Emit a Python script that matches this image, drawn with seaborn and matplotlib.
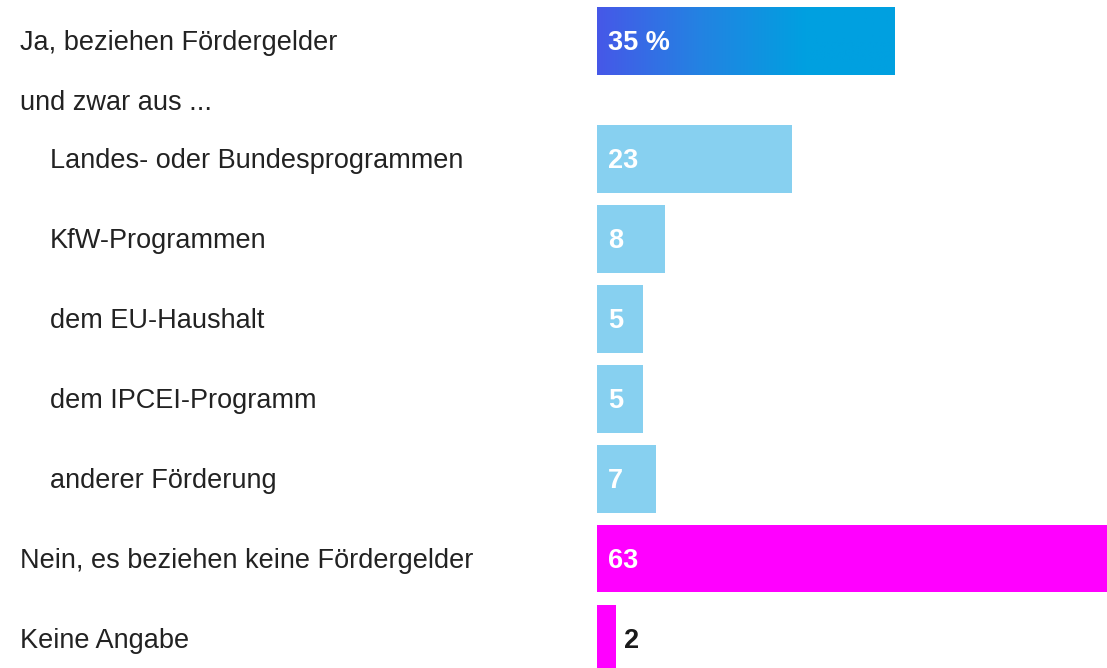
import numpy as np
import pandas as pd
import matplotlib
matplotlib.use("Agg")
import matplotlib.pyplot as plt
import seaborn as sns
from matplotlib.colors import LinearSegmentedColormap

# ---- data ----
categories = ["Ja, beziehen Fördergelder", "Landes- oder Bundesprogrammen", "KfW-Programmen",
              "dem EU-Haushalt", "dem IPCEI-Programm", "anderer Förderung",
              "Nein, es beziehen keine Fördergelder", "Keine Angabe"]
values = [35, 23, 8, 5.4, 5.4, 7, 63, 2.2]
value_labels = ["35 %", "23", "8", "5", "5", "7", "63", "2"]
subheading = "und zwar aus ..."
indented = [False, True, True, True, True, True, False, False]

# ---- layout (row centres in pixel-like units, top = 0) ----
row_pos = [41, 159, 239, 319, 399, 479, 558.5, 638.5]
subheading_pos = 101
text_dy = 2.5
bar_x0_px = 597
px_per_unit = 8.5
W, H = 1107, 668

colors = {
    categories[0]: "#0aa0e0",
    categories[1]: "#87d0f0", categories[2]: "#87d0f0", categories[3]: "#87d0f0",
    categories[4]: "#87d0f0", categories[5]: "#87d0f0",
    categories[6]: "#ff00ff", categories[7]: "#ff00ff",
}

sns.set_theme(style="white")
plt.rcParams["font.family"] = ["Liberation Sans", "DejaVu Sans"]

fig = plt.figure(figsize=(W / 100, H / 100), dpi=100)
ax = fig.add_axes([0, 0, 1, 1])

df = pd.DataFrame({"label": categories, "value": values, "pos": row_pos})
sns.barplot(data=df, x="value", y="pos", hue="label", palette=colors, orient="h",
            native_scale=True, dodge=False, legend=False, saturation=1,
            linewidth=0, width=0.85, ax=ax)

xlim = (-bar_x0_px / px_per_unit, (W - bar_x0_px) / px_per_unit)
ax.set_xlim(*xlim)
ax.set_ylim(H, 0)
ax.set_axis_off()

# gradient on first bar
cmap = LinearSegmentedColormap.from_list("g", [(0, "#4658e8"), (0.35, "#2383e2"), (0.7, "#00a0e0"), (1, "#00a0e0")])
first = None
for p in ax.patches:
    if abs(p.get_y() + p.get_height() / 2 - row_pos[0]) < 1:
        first = p
if first is not None:
    x0, y0 = first.get_x(), first.get_y()
    w, h = first.get_width(), first.get_height()
    grad = np.linspace(0, 1, 256).reshape(1, -1)
    im = ax.imshow(grad, cmap=cmap, aspect="auto", extent=(x0, x0 + w, y0 + h, y0), zorder=3)
    im.set_clip_path(first)
    ax.set_ylim(H, 0)
    ax.set_xlim(*xlim)

# category labels
fs = 19.5
x_main = xlim[0] + 20 / px_per_unit
x_ind = xlim[0] + 50 / px_per_unit
for cat, y, ind in zip(categories, row_pos, indented):
    ax.text(x_ind if ind else x_main, y + text_dy, cat, ha="left", va="center", fontsize=fs, color="#222222")
ax.text(x_main, subheading_pos + text_dy, subheading, ha="left", va="center", fontsize=fs, color="#222222")

# value labels
vfs = 19.5
for v, lab, y in zip(values, value_labels, row_pos):
    if v * px_per_unit > 40:
        ax.text(11 / px_per_unit, y + text_dy, lab, ha="left", va="center", fontsize=vfs, fontweight="bold",
                color="white", zorder=5)
    else:
        ax.text(v + 8 / px_per_unit, y + text_dy, lab, ha="left", va="center", fontsize=vfs, fontweight="bold",
                color="#1a1a1a", zorder=5)

fig.savefig("out.png", dpi=100)
